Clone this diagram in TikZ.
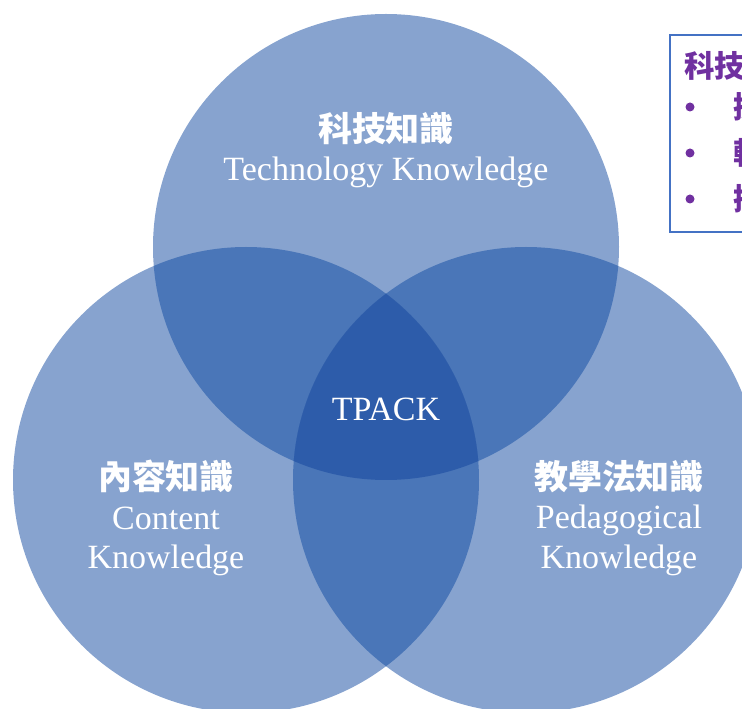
\documentclass[tikz,border=0pt]{standalone}
\usepackage{fontspec}
\setmainfont{Liberation Serif}
\newfontfamily\cjk{Noto Sans CJK TC}
\usetikzlibrary{positioning}
\definecolor{oneblue}{HTML}{87A3CF}
\definecolor{twoblue}{HTML}{4A76B8}
\definecolor{threeblue}{HTML}{2D5CAA}
\definecolor{boxblue}{HTML}{4472C4}
\definecolor{notepurple}{HTML}{7030A0}
\tikzstyle{lbl}=[text=white, align=center, inner sep=0,
		font=\fontsize{29}{34}\selectfont]
\tikzstyle{note}=[text=notepurple, anchor=west, inner sep=0,
		font=\cjk\bfseries\fontsize{26}{30}\selectfont]
\begin{document}
\begin{tikzpicture}[x=0.03cm, y=-0.03cm]
            \useasboundingbox (0,0) rectangle (742,709);
            \clip (0,0) rectangle (742,709);
            % three circles
            \def\tcirc{(386,247) circle (233)}
            \def\lcirc{(246,480) circle (233)}
            \def\rcirc{(526,480) circle (233)}
            \fill[oneblue] \tcirc; \fill[oneblue] \lcirc; \fill[oneblue] \rcirc;
            \begin{scope}
                \clip \tcirc;
                \fill[twoblue] \lcirc; \fill[twoblue] \rcirc;
                \clip \lcirc;
                \fill[threeblue] \rcirc;
            \end{scope}
            \begin{scope}
                \clip \lcirc;
                \fill[twoblue] \rcirc;
                \clip \tcirc;
                \fill[threeblue] \rcirc;
            \end{scope}
            % labels
            \node[lbl] (tech) at (386,150) {{\cjk\bfseries 科技知識}\\Technology Knowledge};
            \node[lbl] (cont) at (166,518) {{\cjk\bfseries 內容知識}\\Content\\Knowledge};
            \node[lbl] (peda) at (619,518) {{\cjk\bfseries 教學法知識}\\Pedagogical\\Knowledge};
            \node[lbl] (tpack) at (386,409) {TPACK};
            % side box
            \draw[boxblue, line width=1.5pt] (670,35) rectangle (780,232);
            \node[note] (title) at (684,66) {科技知識};
            \foreach \y/\t in {107/搜, 153/軟, 199/操} {
                \fill[notepurple] (690,\y) circle (4.5);
                \node[note] (item\y) at (733,\y) {\t};
            }
\end{tikzpicture}
\end{document}
